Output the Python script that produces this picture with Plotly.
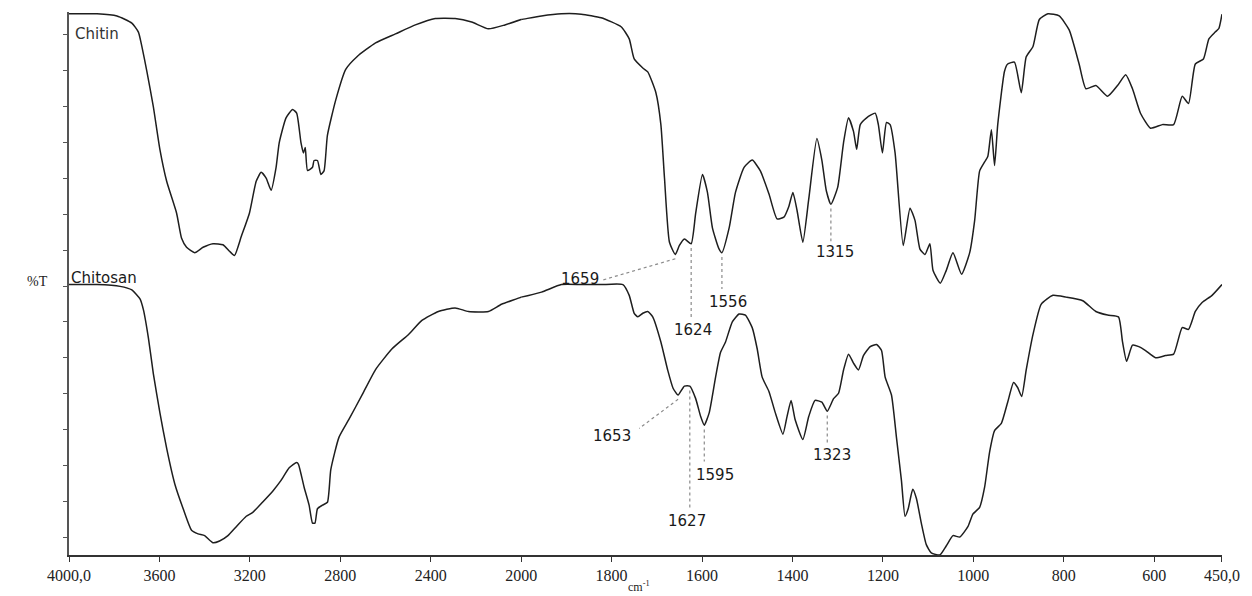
import numpy as np
import plotly.graph_objects as go

# FTIR spectra (wavenumber in cm-1, transmittance in arbitrary %T units, curves offset)
CHITIN_WN = [4000, 3876, 3788, 3722, 3693, 3678, 3656, 3627, 3598, 3568, 3524, 3502, 3480, 3444, 3407,
             3363, 3319, 3290, 3268, 3238, 3202, 3172, 3150, 3128, 3106, 3084, 3070, 3040, 3011, 2993,
             2974, 2963, 2955, 2945, 2923, 2916, 2901, 2886, 2872, 2857, 2820, 2776, 2725, 2644, 2556,
             2468, 2380, 2292, 2219, 2145, 2072, 2000,
             1955, 1911, 1867, 1823, 1779, 1761, 1750, 1731, 1720, 1702, 1691, 1683, 1672, 1659, 1650,
             1639, 1624, 1614, 1599, 1588, 1577, 1563, 1556, 1540, 1526, 1507, 1489, 1471, 1452, 1434,
             1419, 1408, 1399, 1390, 1377, 1364, 1346, 1335, 1325, 1315, 1300, 1287, 1276, 1265, 1258,
             1250, 1236, 1217, 1210, 1201, 1192, 1184, 1173, 1155, 1140, 1129, 1118, 1107, 1096, 1089,
             1073, 1060, 1045, 1026, 1008, 997, 986, 975, 968, 960, 953, 946, 931, 924, 909, 894, 883,
             868, 854, 835, 810, 788, 766, 751, 729, 703, 681, 663, 648, 630, 608, 582, 557, 538, 524,
             509, 491, 479, 465, 457, 450]
CHITIN_T = [150.9, 150.9, 150.3, 148.3, 145.8, 141.9, 135.0, 125.0, 113.1, 104.2, 95.3, 88.3, 85.8, 84.3, 85.8,
            86.8, 86.5, 84.7, 83.5, 88.8, 95.3, 104.2, 106.7, 105.1, 101.7, 108.1, 115.0, 121.9, 124.2, 123.2,
            115.0, 112.1, 113.6, 107.2, 108.1, 110.0, 110.0, 106.1, 107.1, 117.0, 126.9, 135.4, 139.0, 142.8, 145.3,
            147.8, 149.6, 149.6, 148.6, 146.7, 147.8, 149.3,
            150.3, 150.9, 150.8, 149.8, 147.3, 143.9, 138.3, 135.8, 134.7, 128.9, 120.0, 105.1, 87.2, 83.8, 86.3,
            88.1, 86.8, 95.3, 106.1, 101.1, 91.2, 85.5, 84.3, 91.2, 101.1, 108.1, 110.1, 107.1, 100.7, 93.7,
            94.2, 97.2, 101.1, 96.2, 87.2, 99.2, 116.1, 110.1, 101.5, 97.8, 102.5, 115.0, 121.9, 118.1, 113.1,
            120.0, 121.9, 123.2, 120.0, 112.1, 120.6, 120.0, 112.1, 86.3, 96.7, 93.3, 85.3, 83.8, 86.8, 79.3,
            75.8, 79.3, 84.3, 78.3, 84.3, 93.3, 107.1, 109.6, 111.1, 118.6, 108.6, 120.0, 134.9, 136.9, 137.4, 128.9, 138.9,
            141.8, 149.3, 150.9, 150.3, 146.4, 136.9, 130.0, 130.9, 127.9, 130.9, 133.9, 130.0, 123.1, 119.0, 120.0, 120.0, 127.9, 125.9,
            136.9, 138.3, 143.9, 145.8, 146.8, 150.8]

CHITOSAN_WN = [4000, 3876, 3774, 3722, 3686, 3671, 3649, 3627, 3598, 3568, 3532, 3495, 3458, 3429, 3400,
               3363, 3334, 3297, 3260, 3216, 3187, 3143, 3099, 3062, 3026, 2993, 2985, 2960, 2938, 2923,
               2912, 2901, 2879, 2857, 2842, 2806, 2762, 2703, 2644, 2571, 2498, 2439, 2366, 2292, 2233,
               2145, 2087, 2000,
               1955, 1911, 1867, 1823, 1775, 1761, 1750, 1742, 1731, 1720, 1709, 1691, 1676, 1664, 1653,
               1639, 1627, 1614, 1603, 1595, 1584, 1570, 1559, 1548, 1533, 1518, 1504, 1489, 1478, 1467,
               1452, 1438, 1421, 1412, 1403, 1394, 1377, 1364, 1350, 1335, 1323, 1309, 1298, 1287, 1276,
               1265, 1254, 1243, 1228, 1214, 1203, 1195, 1181, 1170, 1159, 1151, 1144, 1134, 1126, 1115,
               1104, 1093, 1074, 1060, 1045, 1030, 1012, 1001, 986, 975, 964, 953, 938, 924, 911, 902, 893,
               883, 868, 850, 824, 795, 758, 729, 703, 679, 670, 661, 648, 634, 619, 597, 575, 557, 538,
               524, 509, 494, 472, 450]
CHITOSAN_T = [75.4, 75.4, 74.9, 73.9, 71.4, 68.4, 60.6, 50.6, 39.7, 29.7, 19.8, 12.9, 6.9, 5.9, 5.4,
              3.4, 3.9, 5.4, 7.9, 10.8, 11.9, 14.8, 17.8, 20.8, 24.3, 25.8, 25.3, 18.9, 13.9, 8.9,
              8.9, 12.9, 13.9, 14.7, 23.8, 32.8, 37.8, 44.7, 51.7, 57.5, 61.5, 65.4, 67.9, 68.9, 67.9,
              67.9, 69.9, 71.9,
              73.3, 75.4, 75.4, 75.4, 75.4, 72.4, 67.4, 66.4, 67.4, 67.9, 66.4, 59.4, 51.6, 46.5, 44.6,
              47.1, 47.1, 43.6, 38.6, 36.2, 39.7, 49.6, 56.5, 59.4, 65.0, 67.2, 66.9, 63.4, 57.5, 49.6,
              45.6, 39.7, 33.7, 38.6, 43.1, 37.7, 32.2, 38.6, 43.1, 42.6, 40.1, 43.6, 45.1, 51.6, 56.0,
              53.5, 51.6, 55.6, 58.1, 58.7, 57.0, 49.6, 44.6, 32.8, 20.8, 10.8, 12.9, 18.3, 15.8, 8.9,
              2.9, 0.6, 0.0, 2.5, 5.4, 5.0, 7.9, 11.4, 13.3, 18.9, 28.7, 34.7, 36.7, 42.6, 48.1, 46.7, 44.2,
              51.6, 61.5, 69.9, 72.4, 71.9, 70.9, 67.9, 66.9, 66.4, 59.4, 54.0, 58.5, 58.1, 57.0, 55.0, 55.6, 56.0, 63.4,
              62.9, 67.9, 70.4, 72.4, 75.4]

# Axis ticks: the scale below 2000 cm-1 is expanded twofold
HIGH_TICKS = [4000, 3600, 3200, 2800, 2400, 2000]
HIGH_TEXT = ["4000,0", "3600", "3200", "2800", "2400", "2000"]
LOW_TICKS = [1800, 1600, 1400, 1200, 1000, 800, 600, 450]
LOW_TEXT = ["1800", "1600", "1400", "1200", "1000", "800", "600", "450,0"]
Y_TICKS = [5 + 10 * k for k in range(15)]

# Peak labels: (series, band, text x, text y, leader end x, leader end y)
PEAKS = [
    ("chitin", 1659, 1870, 76.9, 1819, 76.7),
    ("chitin", 1624, 1620, 62.6, 1624, 65.8),
    ("chitin", 1556, 1542, 70.6, 1556, 74.2),
    ("chitin", 1315, 1306, 84.4, 1315, 87.5),
    ("chitosan", 1653, 1800, 33.1, 1739, 35.3),
    ("chitosan", 1627, 1634, 9.4, 1627, 12.4),
    ("chitosan", 1595, 1572, 22.3, 1595, 26.1),
    ("chitosan", 1323, 1313, 27.8, 1323, 30.6),
]

SPECTRA = {"chitin": (CHITIN_WN, CHITIN_T), "chitosan": (CHITOSAN_WN, CHITOSAN_T)}
SPLIT = 2000
FRAC = 1000 / 2550  # 2000 cm-1 at half scale vs 1550 cm-1 at full scale

fig = go.Figure()
line_style = dict(color="#1e1e1e", width=1.5, shape="spline", smoothing=0.5)
for name, (wn, t) in SPECTRA.items():
    wn = np.asarray(wn, float)
    t = np.asarray(t, float)
    k = int(np.where(wn == SPLIT)[0][0])
    # each half runs one point past the break so the clipped line joins cleanly
    fig.add_trace(go.Scatter(x=wn[:k + 2], y=t[:k + 2], mode="lines", line=line_style,
                             xaxis="x", yaxis="y", name=name, hoverinfo="skip"))
    fig.add_trace(go.Scatter(x=wn[k - 1:], y=t[k - 1:], mode="lines", line=line_style,
                             xaxis="x2", yaxis="y", name=name, hoverinfo="skip"))

annotations = []
shapes = []
for series, band, tx, ty, ex, ey in PEAKS:
    wn, t = SPECTRA[series]
    y_band = float(np.interp(band, wn[::-1], t[::-1]))
    shapes.append(dict(type="line", xref="x2", yref="y", x0=band, y0=y_band - 1.2, x1=ex, y1=ey,
                       line=dict(color="#8a8a8a", width=1.2, dash="dot")))
    annotations.append(dict(x=tx, y=ty, xref="x2", yref="y", text=str(band), showarrow=False,
                            font=dict(family="DejaVu Sans", size=15, color="#1a1a1a")))

annotations += [
    dict(x=3982, y=145.3, xref="x", yref="y", text="Chitin", showarrow=False, xanchor="left",
         font=dict(family="DejaVu Sans", size=15, color="#333")),
    dict(x=4000, y=77.2, xref="x", yref="y", text="Chitosan", showarrow=False, xanchor="left",
         font=dict(family="DejaVu Sans", size=15, color="#1a1a1a")),
    dict(x=-0.038, y=0.503, xref="paper", yref="paper", text="%T", showarrow=False,
         font=dict(family="Liberation Serif", size=14, color="#222")),
    dict(x=0.4944, y=-0.0587, xref="paper", yref="paper", text="cm<sup>-1</sup>", showarrow=False,
         yanchor="middle", font=dict(family="Liberation Serif", size=12, color="#222")),
]

axis_common = dict(ticks="outside", ticklen=5, tickcolor="#333", tickwidth=1, showline=True,
                   linecolor="#333", linewidth=1.5, showgrid=False, zeroline=False, anchor="y",
                   tickfont=dict(family="Liberation Serif", size=16, color="#222"))

fig.update_layout(
    width=1252, height=596,
    margin=dict(l=69, r=24, t=12, b=39),
    paper_bgcolor="white", plot_bgcolor="white",
    showlegend=False,
    xaxis=dict(domain=[0, FRAC], range=[4000, SPLIT], tickvals=HIGH_TICKS, ticktext=HIGH_TEXT, **axis_common),
    xaxis2=dict(domain=[FRAC, 1], range=[SPLIT, 450], tickvals=LOW_TICKS, ticktext=LOW_TEXT, **axis_common),
    yaxis=dict(range=[0, 151.4], tickvals=Y_TICKS, ticks="outside", ticklen=4, tickcolor="#555",
               showticklabels=False, showline=True, linecolor="#555", linewidth=2,
               showgrid=False, zeroline=False),
    annotations=annotations,
    shapes=shapes,
)

fig.write_html("out.html")
